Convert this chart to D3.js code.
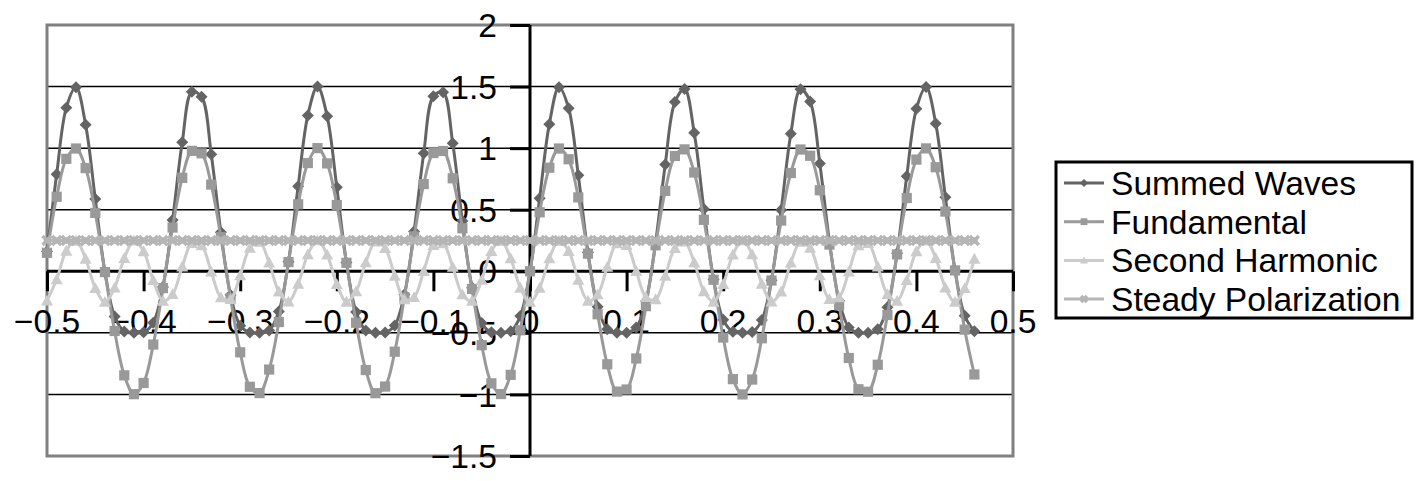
<!DOCTYPE html>
<html>
<head>
<meta charset="utf-8">
<script src="https://cdn.jsdelivr.net/npm/d3@7/dist/d3.min.js"></script>
<style>
  html, body { margin: 0; padding: 0; background: #ffffff; }
  svg { display: block; }
  text { font-family: "Liberation Sans", Arial, sans-serif; }
</style>
</head>
<body>
<svg id="chart" width="1425" height="481"></svg>
<script>
const xValues = [
  -0.5,-0.49,-0.48,-0.47,-0.46,-0.45,-0.44,-0.43,-0.42,-0.41,-0.4,-0.39,-0.38,-0.37,-0.36,-0.35,-0.34,-0.33,-0.32,-0.31,-0.3,-0.29,-0.28,-0.27,-0.26,
  -0.25,-0.24,-0.23,-0.22,-0.21,-0.2,-0.19,-0.18,-0.17,-0.16,-0.15,-0.14,-0.13,-0.12,-0.11,-0.1,-0.09,-0.08,-0.07,-0.06,-0.05,-0.04,-0.03,-0.02,-0.01,
  0,0.01,0.02,0.03,0.04,0.05,0.06,0.07,0.08,0.09,0.1,0.11,0.12,0.13,0.14,0.15,0.16,0.17,0.18,0.19,0.2,0.21,0.22,0.23,0.24,
  0.25,0.26,0.27,0.28,0.29,0.3,0.31,0.32,0.33,0.34,0.35,0.36,0.37,0.38,0.39,0.4,0.41,0.42,0.43,0.44,0.45,0.46
];
const summedWaves = [
  0.161,0.788,1.329,1.494,1.189,0.586,-0.007,-0.367,-0.488,-0.500,-0.496,-0.418,-0.127,0.417,1.047,1.457,1.417,0.951,0.316,-0.193,-0.442,-0.498,-0.500,-0.480,-0.327,
  0.078,0.691,1.266,1.500,1.260,0.683,0.071,-0.331,-0.480,-0.500,-0.498,-0.440,-0.188,0.323,0.959,1.421,1.454,1.040,0.409,-0.133,-0.420,-0.496,-0.500,-0.487,-0.364,
  0.000,0.594,1.195,1.495,1.324,0.780,0.153,-0.288,-0.470,-0.500,-0.499,-0.457,-0.243,0.233,0.867,1.374,1.480,1.124,0.505,-0.066,-0.393,-0.492,-0.500,-0.493,-0.396,
  -0.072,0.497,1.117,1.479,1.379,0.875,0.240,-0.239,-0.456,-0.499,-0.500,-0.471,-0.292,0.146,0.772,1.319,1.496,1.201,0.602,0.007,-0.361,-0.487
];
const fundamental = [
  0.150,0.605,0.913,0.997,0.838,0.474,-0.007,-0.485,-0.845,-0.998,-0.907,-0.595,-0.137,0.355,0.759,0.978,0.958,0.704,0.277,-0.217,-0.658,-0.938,-0.989,-0.798,-0.412,
  0.075,0.544,0.879,1.000,0.876,0.538,0.069,-0.418,-0.802,-0.990,-0.936,-0.653,-0.211,0.283,0.708,0.960,0.977,0.755,0.349,-0.143,-0.600,-0.910,-0.997,-0.841,-0.479,
  0.000,0.479,0.841,0.997,0.910,0.600,0.143,-0.349,-0.755,-0.977,-0.960,-0.708,-0.283,0.211,0.653,0.936,0.990,0.802,0.418,-0.069,-0.538,-0.876,-1.000,-0.879,-0.544,
  -0.075,0.412,0.798,0.989,0.938,0.658,0.217,-0.277,-0.704,-0.958,-0.978,-0.759,-0.355,0.137,0.595,0.907,0.998,0.845,0.485,0.007,-0.474,-0.838
];
const secondHarmonic = [
  -0.239,-0.067,0.166,0.247,0.101,-0.138,-0.250,-0.133,0.107,0.248,0.162,-0.073,-0.241,-0.187,0.038,0.228,0.209,-0.003,-0.212,-0.227,-0.033,0.190,0.239,0.069,-0.165,
  -0.247,-0.102,0.137,0.250,0.134,-0.105,-0.248,-0.163,0.072,0.240,0.188,-0.037,-0.228,-0.210,0.001,0.211,0.227,0.035,-0.189,-0.240,-0.070,0.164,0.247,0.104,-0.135,
  -0.250,-0.135,0.104,0.247,0.164,-0.070,-0.240,-0.189,0.035,0.227,0.211,0.001,-0.210,-0.228,-0.037,0.188,0.240,0.072,-0.163,-0.248,-0.105,0.134,0.250,0.137,-0.102,
  -0.247,-0.165,0.069,0.239,0.190,-0.033,-0.227,-0.212,-0.003,0.209,0.228,0.038,-0.187,-0.241,-0.073,0.162,0.248,0.107,-0.133,-0.250,-0.138,0.101
];
const steadyPolarization = [
  0.25,0.25,0.25,0.25,0.25,0.25,0.25,0.25,0.25,0.25,0.25,0.25,0.25,0.25,0.25,0.25,0.25,0.25,0.25,0.25,0.25,0.25,0.25,0.25,0.25,
  0.25,0.25,0.25,0.25,0.25,0.25,0.25,0.25,0.25,0.25,0.25,0.25,0.25,0.25,0.25,0.25,0.25,0.25,0.25,0.25,0.25,0.25,0.25,0.25,0.25,
  0.25,0.25,0.25,0.25,0.25,0.25,0.25,0.25,0.25,0.25,0.25,0.25,0.25,0.25,0.25,0.25,0.25,0.25,0.25,0.25,0.25,0.25,0.25,0.25,0.25,
  0.25,0.25,0.25,0.25,0.25,0.25,0.25,0.25,0.25,0.25,0.25,0.25,0.25,0.25,0.25,0.25,0.25,0.25,0.25,0.25,0.25,0.25
];
const seriesNames = ["Summed Waves", "Fundamental", "Second Harmonic", "Steady Polarization"];
const xTicks = [-0.5,-0.4,-0.3,-0.2,-0.1,0,0.1,0.2,0.3,0.4,0.5];
const xTickLabels = ["\u22120.5","\u22120.4","\u22120.3","\u22120.2","\u22120.1","0","0.1","0.2","0.3","0.4","0.5"];
const yTicks = [-1.5,-1,-0.5,0,0.5,1,1.5,2];
const yTickLabels = ["\u22121.5","\u22121","\u22120.5","0","0.5","1","1.5","2"];

const svg = d3.select("#chart");
const L = 47, R = 1013, T = 25, B = 456;
const x = d3.scaleLinear().domain([-0.5, 0.5]).range([L, R]);
const y = d3.scaleLinear().domain([-1.5, 2]).range([B, T]);
const FS = 33.6;

// gridlines
const gridVals = yTicks.filter(v => v !== -1.5 && v !== 2 && v !== 0);
svg.append("g").selectAll("line").data(gridVals).join("line")
  .attr("x1", L).attr("x2", R)
  .attr("y1", d => y(d)).attr("y2", d => y(d))
  .attr("stroke", "#000").attr("stroke-width", 1.5);

// plot border
svg.append("rect").attr("x", L).attr("y", T).attr("width", R - L).attr("height", B - T)
  .attr("fill", "none").attr("stroke", "#808080").attr("stroke-width", 3);

// x axis at y=0
const xAxis = d3.axisBottom(x).tickValues(xTicks).tickSize(20).tickFormat("");
const gx = svg.append("g").attr("transform", `translate(0,${y(0)})`).call(xAxis);
gx.select(".domain").attr("stroke", "#000").attr("stroke-width", 3).attr("d", `M${L},0H${R}`);
gx.selectAll(".tick line").attr("stroke", "#000").attr("stroke-width", 3);
svg.append("g").selectAll("text").data(xTicks).join("text")
  .attr("x", d => x(d)).attr("y", 333)
  .attr("text-anchor", "middle").attr("font-size", FS).attr("fill", "#000")
  .text((d, i) => xTickLabels[i]);

// y axis at x=0
const yAxis = d3.axisLeft(y).tickValues(yTicks).tickSize(20).tickFormat("");
const gy = svg.append("g").attr("transform", `translate(${x(0)},0)`).call(yAxis);
gy.select(".domain").attr("stroke", "#000").attr("stroke-width", 3).attr("d", `M0,${T}V${B}`);
gy.selectAll(".tick line").attr("stroke", "#000").attr("stroke-width", 3);
svg.append("g").selectAll("text").data(yTicks).join("text")
  .attr("x", 497).attr("y", d => y(d)).attr("dy", "0.36em")
  .attr("text-anchor", "end").attr("font-size", FS).attr("fill", "#000")
  .text((d, i) => yTickLabels[i]);

// series
const series = [
  { name: seriesNames[0], values: summedWaves, color: "#646464", marker: "diamond" },
  { name: seriesNames[1], values: fundamental, color: "#999999", marker: "square" },
  { name: seriesNames[2], values: secondHarmonic, color: "#cbcbcb", marker: "triangle" },
  { name: seriesNames[3], values: steadyPolarization, color: "#b5b5b5", marker: "x" }
];

const line = d3.line().x(d => x(d[0])).y(d => y(d[1])).curve(d3.curveCatmullRom.alpha(0.5));

function drawMarker(g, type, cx, cy, color, s) {
  if (type === "diamond") {
    g.append("path").attr("d", `M${cx},${cy - s}L${cx + s},${cy}L${cx},${cy + s}L${cx - s},${cy}Z`).attr("fill", color);
  } else if (type === "square") {
    g.append("rect").attr("x", cx - s * 0.85).attr("y", cy - s * 0.85).attr("width", s * 1.7).attr("height", s * 1.7).attr("fill", color);
  } else if (type === "triangle") {
    g.append("path").attr("d", `M${cx},${cy - s}L${cx + s},${cy + s * 0.8}L${cx - s},${cy + s * 0.8}Z`).attr("fill", color);
  } else {
    const k = s * 0.75;
    g.append("path").attr("d", `M${cx - k},${cy - k}L${cx + k},${cy + k}M${cx - k},${cy + k}L${cx + k},${cy - k}`)
      .attr("stroke", color).attr("stroke-width", 3.5).attr("fill", "none");
    g.append("circle").attr("cx", cx).attr("cy", cy).attr("r", s * 0.55).attr("fill", color);
  }
}

series.forEach(sr => {
  const pts = xValues.map((xv, i) => [xv, sr.values[i]]);
  const g = svg.append("g");
  g.append("path").datum(pts).attr("d", line).attr("fill", "none")
    .attr("stroke", sr.color).attr("stroke-width", 3);
  const mg = svg.append("g");
  pts.forEach(p => drawMarker(mg, sr.marker, x(p[0]), y(p[1]), sr.color, 6));
});

// legend
const lg = svg.append("g");
lg.append("rect").attr("x", 1056).attr("y", 162).attr("width", 356).attr("height", 156)
  .attr("fill", "#fff").attr("stroke", "#000").attr("stroke-width", 3);
series.forEach((sr, i) => {
  const cy = 183 + i * 38.7;
  lg.append("line").attr("x1", 1064).attr("x2", 1104).attr("y1", cy).attr("y2", cy)
    .attr("stroke", sr.color).attr("stroke-width", 3);
  drawMarker(lg, sr.marker, 1084, cy, sr.color, 4);
  lg.append("text").attr("x", 1111).attr("y", cy).attr("dy", "0.36em")
    .attr("font-size", FS).attr("fill", "#000").text(sr.name);
});
</script>
</body>
</html>
